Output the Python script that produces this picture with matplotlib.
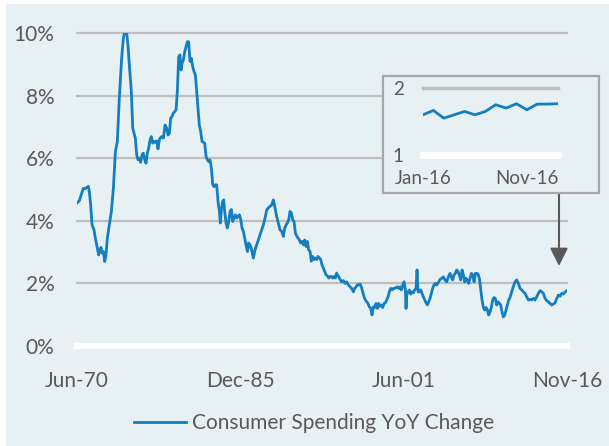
import matplotlib.pyplot as plt
from matplotlib.patches import Rectangle

plt.rcParams["font.family"] = ["Lato", "DejaVu Sans"]

BG = "#E7F0F3"
LINE = "#137EC0"
GRID = "#BFBFBF"
TEXT = "#595959"

# consumer spending YoY change (%) at irregular dates
years = [
    1970.44, 1970.69, 1970.91, 1971.07, 1971.22, 1971.38, 1971.54, 1971.63, 1971.76, 1971.89,
    1972.08, 1972.20, 1972.39, 1972.52, 1972.64, 1972.74, 1972.83, 1972.96, 1973.09, 1973.21,
    1973.34, 1973.53, 1973.72, 1973.91, 1974.10, 1974.28, 1974.47, 1974.69, 1974.85, 1974.95,
    1975.17, 1975.29, 1975.42, 1975.61, 1975.74, 1975.86, 1975.99, 1976.11, 1976.24, 1976.37,
    1976.49, 1976.62, 1976.74, 1976.87, 1977.00, 1977.12, 1977.25, 1977.38, 1977.50, 1977.63,
    1977.75, 1977.88, 1978.01, 1978.13, 1978.26, 1978.32, 1978.48, 1978.64, 1978.80, 1978.95,
    1979.08, 1979.21, 1979.33, 1979.46, 1979.58, 1979.71, 1979.84, 1979.96, 1980.09, 1980.21,
    1980.31, 1980.40, 1980.53, 1980.66, 1980.78, 1980.91, 1981.03, 1981.16, 1981.29, 1981.41,
    1981.54, 1981.67, 1981.79, 1981.92, 1982.04, 1982.17, 1982.30, 1982.42, 1982.55, 1982.68,
    1982.80, 1982.93, 1983.05, 1983.18, 1983.31, 1983.43, 1983.56, 1983.68, 1983.81, 1983.94,
    1984.03, 1984.13, 1984.25, 1984.35, 1984.44, 1984.57, 1984.69, 1984.82, 1984.95, 1985.07,
    1985.20, 1985.32, 1985.45, 1985.58, 1985.70, 1985.83, 1985.96, 1986.08, 1986.21, 1986.33,
    1986.46, 1986.59, 1986.71, 1986.84, 1986.99, 1987.15, 1987.31, 1987.47, 1987.63, 1987.78,
    1987.94, 1988.10, 1988.26, 1988.42, 1988.57, 1988.73, 1988.89, 1989.05, 1989.20, 1989.36,
    1989.52, 1989.68, 1989.84, 1989.99, 1990.12, 1990.25, 1990.37, 1990.50, 1990.62, 1990.75,
    1990.88, 1991.00, 1991.13, 1991.25, 1991.38, 1991.51, 1991.63, 1991.76, 1991.89, 1992.01,
    1992.14, 1992.26, 1992.39, 1992.52, 1992.64, 1992.77, 1992.89, 1993.02, 1993.15, 1993.27,
    1993.40, 1993.53, 1993.65, 1993.78, 1993.90, 1994.03, 1994.16, 1994.28, 1994.41, 1994.53,
    1994.66, 1994.79, 1994.91, 1995.04, 1995.17, 1995.29, 1995.36, 1995.51, 1995.67, 1995.83,
    1995.99, 1996.14, 1996.30, 1996.46, 1996.62, 1996.74, 1996.87, 1996.99, 1997.12, 1997.25,
    1997.37, 1997.50, 1997.63, 1997.75, 1997.88, 1998.00, 1998.13, 1998.26, 1998.38, 1998.51,
    1998.64, 1998.76, 1998.89, 1999.01, 1999.14, 1999.27, 1999.39, 1999.52, 1999.65, 1999.77,
    1999.90, 2000.02, 2000.15, 2000.28, 2000.40, 2000.53, 2000.65, 2000.78, 2000.91, 2001.03,
    2001.16, 2001.29, 2001.41, 2001.54, 2001.60, 2001.66, 2001.79, 2001.92, 2002.04, 2002.17,
    2002.29, 2002.42, 2002.55, 2002.64, 2002.74, 2002.86, 2002.99, 2003.11, 2003.24, 2003.37,
    2003.49, 2003.62, 2003.74, 2003.87, 2004.00, 2004.12, 2004.25, 2004.38, 2004.50, 2004.69,
    2004.82, 2004.98, 2005.13, 2005.29, 2005.45, 2005.61, 2005.76, 2005.89, 2006.02, 2006.14,
    2006.27, 2006.39, 2006.52, 2006.65, 2006.77, 2006.90, 2007.03, 2007.15, 2007.28, 2007.40,
    2007.53, 2007.66, 2007.78, 2007.91, 2008.04, 2008.16, 2008.29, 2008.41, 2008.54, 2008.67,
    2008.79, 2008.92, 2009.04, 2009.17, 2009.30, 2009.42, 2009.55, 2009.68, 2009.80, 2009.93,
    2010.05, 2010.18, 2010.31, 2010.43, 2010.56, 2010.68, 2010.81, 2010.94, 2011.06, 2011.19,
    2011.32, 2011.44, 2011.60, 2011.76, 2011.92, 2012.07, 2012.23, 2012.39, 2012.55, 2012.70,
    2012.86, 2013.02, 2013.18, 2013.35, 2013.49, 2013.65, 2013.81, 2013.96, 2014.12, 2014.28,
    2014.44, 2014.60, 2014.75, 2014.91, 2015.07, 2015.23, 2015.38, 2015.54, 2015.70, 2015.86,
    2016.02, 2016.17, 2016.33, 2016.49, 2016.65, 2016.83,
]
yoy = [
    4.56, 4.64, 4.88, 5.04, 5.02, 5.06, 5.10, 4.94, 4.51, 3.87,
    3.71, 3.45, 3.13, 2.91, 3.07, 3.15, 2.97, 3.02, 2.70, 2.91,
    3.45, 3.87, 4.30, 5.04, 6.21, 6.53, 7.91, 9.19, 9.83, 10.0,
    10.0, 9.62, 8.98, 8.13, 6.96, 6.80, 6.64, 6.11, 5.95, 6.00,
    5.87, 6.11, 6.16, 5.95, 5.84, 6.16, 6.32, 6.59, 6.69, 6.48,
    6.53, 6.51, 6.55, 6.30, 6.59, 6.64, 6.69, 6.64, 7.06, 6.96,
    6.74, 6.80, 7.28, 7.33, 7.44, 7.49, 7.54, 8.13, 9.24, 9.30,
    8.82, 9.03, 9.14, 9.40, 9.56, 9.72, 9.72, 9.09, 9.19, 8.93,
    8.77, 8.66, 8.13, 7.60, 7.06, 6.85, 6.53, 6.51, 6.48, 6.05,
    5.95, 5.89, 5.95, 5.68, 5.15, 5.09, 5.15, 5.15, 4.62, 4.30,
    3.93, 4.36, 4.62, 4.67, 4.30, 3.93, 3.77, 3.98, 4.30, 4.36,
    3.98, 4.09, 4.19, 4.09, 4.15, 4.19, 4.04, 3.77, 3.66, 3.45,
    3.23, 3.02, 3.29, 3.23, 3.07, 2.81, 3.07, 3.23, 3.39, 3.55,
    3.71, 3.87, 4.09, 4.35, 4.41, 4.46, 4.51, 4.67, 4.41, 4.14,
    3.93, 3.71, 3.66, 3.50, 3.77, 3.87, 3.93, 4.03, 4.30, 4.25,
    4.03, 3.98, 3.61, 3.52, 3.45, 3.39, 3.29, 3.34, 3.23, 3.39,
    3.18, 3.34, 3.07, 3.02, 2.71, 2.86, 2.76, 2.81, 2.76, 2.86,
    2.81, 2.76, 2.59, 2.49, 2.38, 2.27, 2.24, 2.17, 2.22, 2.22,
    2.17, 2.22, 2.17, 2.33, 2.24, 2.17, 2.13, 2.05, 2.09, 2.00,
    2.05, 1.95, 1.89, 1.84, 1.73, 1.84, 1.89, 1.95, 1.95, 1.98,
    1.89, 1.73, 1.57, 1.47, 1.41, 1.36, 1.25, 1.20, 0.99, 1.25,
    1.23, 1.36, 1.20, 1.36, 1.27, 1.31, 1.23, 1.36, 1.38, 1.47,
    1.57, 1.73, 1.84, 1.79, 1.84, 1.84, 1.87, 1.89, 1.84, 1.89,
    1.79, 1.95, 2.05, 1.79, 1.20, 1.63, 1.73, 1.79, 1.66, 1.73,
    1.70, 1.79, 1.84, 2.43, 1.73, 1.73, 1.79, 1.68, 1.57, 1.47,
    1.38, 1.31, 1.41, 1.52, 1.68, 1.84, 1.95, 2.00, 1.95, 2.05,
    2.13, 2.16, 2.21, 2.11, 2.05, 2.21, 2.32, 2.21, 2.11, 2.27,
    2.32, 2.43, 2.37, 2.27, 2.11, 2.43, 2.27, 2.05, 2.16, 2.11,
    2.00, 2.16, 2.32, 2.27, 2.05, 2.32, 2.32, 2.30, 2.16, 1.79,
    1.47, 1.23, 1.15, 1.23, 1.15, 0.99, 1.09, 1.25, 1.47, 1.55,
    1.52, 1.31, 1.41, 1.36, 1.31, 1.09, 0.93, 0.99, 1.15, 1.31,
    1.47, 1.55, 1.73, 1.91, 2.05, 2.11, 2.00, 1.84, 1.79, 1.73,
    1.68, 1.57, 1.47, 1.49, 1.47, 1.52, 1.47, 1.57, 1.68, 1.77,
    1.73, 1.68, 1.52, 1.45, 1.41, 1.36, 1.31, 1.34, 1.38, 1.52,
    1.63, 1.59, 1.68, 1.66, 1.73, 1.77,
]
x_tick_pos = [1970.42, 1985.92, 2001.42, 2016.83]
x_tick_labels = ["Jun-70", "Dec-85", "Jun-01", "Nov-16"]
y_ticks = [0, 2, 4, 6, 8, 10]

# inset: last 14 months
inset_vals = [1.60, 1.665, 1.55, 1.60, 1.65, 1.60, 1.65, 1.75, 1.70, 1.765,
              1.675, 1.76, 1.76, 1.765]
inset_tick_idx = [0, 10]
inset_tick_labels = ["Jan-16", "Nov-16"]

fig = plt.figure(figsize=(6.09, 4.46), dpi=100, facecolor="white")
fig.patches.append(Rectangle((6 / 609, 0), 1, 442 / 446, transform=fig.transFigure,
                             facecolor=BG, edgecolor="none", zorder=-10))

ax = fig.add_axes([76.5 / 609, 100 / 446, 490.5 / 609, 313 / 446])
ax.set_facecolor("none")
for v in y_ticks:
    if v == 0:
        ax.axhline(v, color="white", lw=4.5, zorder=1, clip_on=False)
    else:
        ax.axhline(v, color=GRID, lw=1.6, zorder=1, clip_on=False)
ax.plot(years, yoy, color=LINE, lw=2.0, zorder=3, label="Consumer Spending YoY Change",
        solid_joinstyle="round")
ax.set_xlim(x_tick_pos[0], x_tick_pos[-1])
ax.set_ylim(0, 10)
ax.set_yticks(y_ticks, [f"{v}%" for v in y_ticks])
ax.set_xticks(x_tick_pos, x_tick_labels)
ax.tick_params(length=0, labelsize=15, colors=TEXT)
ax.tick_params(axis="y", pad=16)
ax.tick_params(axis="x", pad=18)
for s in ax.spines.values():
    s.set_visible(False)

ax.legend(loc="center", bbox_to_anchor=(314 / 609, 23 / 446), bbox_transform=fig.transFigure,
          frameon=False, fontsize=15, labelcolor=TEXT, handlelength=2.5, handletextpad=0.25)

# inset box
fig.patches.append(Rectangle((382.7 / 609, 253 / 446), 216.3 / 609, 117 / 446,
                             transform=fig.transFigure, facecolor=BG, edgecolor="#A6A6A6",
                             lw=1.6, zorder=5))
iax = fig.add_axes([423 / 609, 291 / 446, 135 / 609, 67 / 446], zorder=6)
iax.set_facecolor("none")
iax.axhline(2, color=GRID, lw=2.5, zorder=1, clip_on=False)
iax.axhline(1, color="white", lw=5, zorder=1, clip_on=False)
iax.plot(range(len(inset_vals)), inset_vals, color=LINE, lw=2.0, zorder=3)
iax.set_xlim(0, len(inset_vals) - 1)
iax.set_ylim(1, 2)
iax.set_yticks([1, 2], ["1", "2"])
iax.set_xticks(inset_tick_idx, inset_tick_labels)
iax.tick_params(length=0, labelsize=13.5, colors=TEXT)
iax.tick_params(axis="y", pad=14)
iax.tick_params(axis="x", pad=11)
for s in iax.spines.values():
    s.set_visible(False)

# arrow from inset down to the latest data
ax.annotate("", xy=(559 / 609, 180 / 446), xytext=(559 / 609, 253 / 446),
            xycoords="figure fraction", textcoords="figure fraction",
            arrowprops=dict(arrowstyle="-|>", mutation_scale=27, lw=1.5,
                            color="#595959", shrinkA=0, shrinkB=0))

fig.savefig("out.png", dpi=100, facecolor="white")
